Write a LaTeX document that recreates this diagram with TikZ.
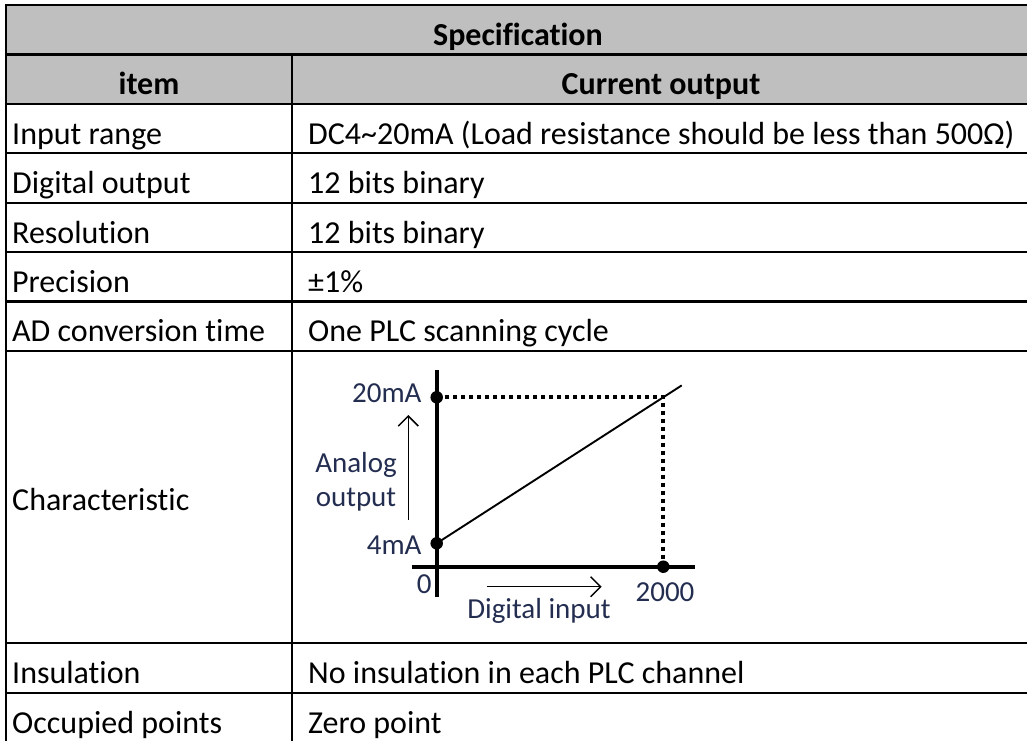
\documentclass[tikz,border=0pt]{standalone}
\usepackage{fontspec}
\setmainfont{Carlito}[Ligatures={NoCommon}]
\usetikzlibrary{arrows.meta}
\definecolor{headgray}{RGB}{191,191,191}
\definecolor{chartlabel}{RGB}{35,45,80}

\begin{document}
\begin{tikzpicture}[x=1pt,y=-1pt,
  rule/.style={line width=2.2pt},
  cell/.style={anchor=base west,inner sep=0pt,font=\fontsize{32}{38}\selectfont},
  head/.style={anchor=base,inner sep=0pt,font=\fontsize{32}{38}\selectfont\bfseries},
  axisline/.style={line width=4.3pt},
  guide/.style={line width=3.8pt,dash pattern=on 3.8pt off 4.2pt},
  ptdot/.style={circle,fill=black,inner sep=0pt,minimum size=12.5pt},
  lbl/.style={inner sep=0pt,text=chartlabel,font=\fontsize{29}{34}\selectfont},
  thinarrow/.style={line width=1.5pt,-{Straight Barb[length=10pt,width=20pt,line width=1.5pt]}},
]
\useasboundingbox (0,0) rectangle (1027,740);

% header shading
\fill[headgray] (6,5) rectangle (1030,103.8);

% table rules
\foreach \y in {5,54.4,103.8,153.2,202.6,252,301.4,350.8,643.2,692.6}
  \draw[rule] (4.9,\y) -- (1032,\y);
\draw[rule] (6,3.9) -- (6,745);
\draw[rule] (291.7,54.4) -- (291.7,745);

% header texts
\node[head] (spec) at (518,45.4) {Specification};
\node[head] (item) at (149,94.8) {item};
\node[head] (curout) at (661,94.8) {Current output};

% first column
\node[cell] (r1) at (12,144.2) {Input range};
\node[cell] (r2) at (12,193.6) {Digital output};
\node[cell] (r3) at (12,243) {Resolution};
\node[cell] (r4) at (12,292.4) {Precision};
\node[cell] (r5) at (12,341.8) {AD conversion time};
\node[cell] (r6) at (12,510) {Characteristic};
\node[cell] (r7) at (12,683.6) {Insulation};
\node[cell] (r8) at (12,733) {Occupied points};

% second column
\node[cell] (v1) at (308,144.2) {DC4\textasciitilde 20mA (Load resistance should be less than 500Ω)};
\node[cell] (v2) at (308,193.6) {12 bits binary};
\node[cell] (v3) at (308,243) {12 bits binary};
\node[cell] (v4) at (308,292.4) {±1\%};
\node[cell] (v5) at (308,341.8) {One PLC scanning cycle};
\node[cell] (v7) at (308,683.6) {No insulation in each PLC channel};
\node[cell] (v8) at (308,733) {Zero point};

% characteristic chart
\coordinate (ytop) at (436.7,370);
\coordinate (ybot) at (436.7,597);
\coordinate (xleft) at (411.7,566.7);
\coordinate (xright) at (695,566.7);
\coordinate (corner) at (663.3,397.3);
\coordinate (lineend) at (681.7,385.4);
\coordinate (uptail) at (408.3,520);
\coordinate (uptip) at (408.3,415);
\coordinate (rtail) at (486.7,586.7);
\coordinate (rtip) at (601.7,586.7);

\draw[axisline] (ybot) -- (ytop);
\draw[axisline] (xleft) -- (xright);

\node[ptdot] (p20) at (436.7,397.3) {};
\node[ptdot] (p4) at (436.7,543.3) {};
\node[ptdot] (p2000) at (663.3,566.7) {};

\draw[guide] (p20.center) -- (corner) -- (p2000.center);
\draw[line width=1.9pt] (p4.center) -- (lineend);

\draw[thinarrow] (uptail) -- (uptip);
\draw[thinarrow] (rtail) -- (rtip);

\node[lbl,anchor=base east] (l20) at (421.7,402.7) {20mA};
\node[lbl,anchor=base east] (l4) at (421.7,554) {4mA};
\node[lbl,anchor=base east] (l0) at (431.7,593.3) {0};
\node[lbl,anchor=base] (l2000) at (665,601.7) {2000};
\node[lbl,anchor=base] (ldig) at (539,618.3) {Digital input};
\node[lbl,anchor=base] (lana) at (356,472.7) {Analog};
\node[lbl,anchor=base] (lout) at (356,506.7) {output};
\end{tikzpicture}
\end{document}
